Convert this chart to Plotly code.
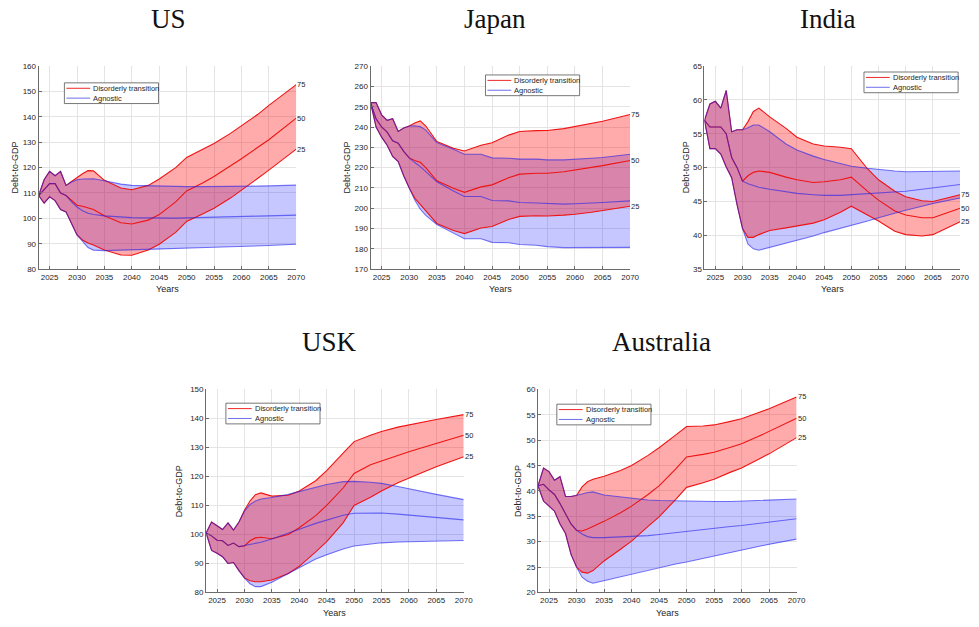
import plotly.graph_objects as go

# ---------------------------------------------------------------------------
# Debt-to-GDP fan bands (25th / 50th / 75th percentiles), 2023-2070
# ---------------------------------------------------------------------------
YEARS = [2023, 2024, 2025, 2026, 2027, 2028, 2029, 2030, 2031, 2032, 2033,
         2035, 2038, 2040, 2043, 2045, 2048, 2050, 2053, 2055, 2058, 2060,
         2063, 2065, 2070]

X_TICKS = [2025, 2030, 2035, 2040, 2045, 2050, 2055, 2060, 2065, 2070]
PCT_LABELS = ["25", "50", "75"]
SERIES_NAMES = ["Disorderly transition", "Agnostic"]

# US
US_DIS_P75 = [109, 115.2, 118.5, 116.8, 118.5, 113, 114.5, 116.2, 117.6, 118.8, 118.7,
              115, 112, 111.3, 113, 115.5, 120, 124, 127.2, 129.5, 133.5, 136.5, 141, 144.5, 152.7]
US_DIS_P50 = [109, 111.5, 113.7, 113.7, 110, 109, 107, 105.2, 104.8, 104.3, 103.5,
              101, 98.3, 97.8, 99.3, 101.5, 106.5, 110.8, 114, 116.5, 120.5, 123.5, 128, 131, 139.5]
US_DIS_P25 = [109, 106, 108.5, 107, 103.5, 102.5, 98, 93.5, 91.5, 90.3, 89.5,
              87.5, 85.6, 85.5, 87.5, 89.8, 94.5, 98.8, 101.8, 104, 108, 111, 115.8, 119, 127.3]
US_AGN_P75 = [109, 115.2, 118.5, 116.8, 118.5, 113, 114.3, 115.2, 115.5, 115.6, 115.6,
              114.8, 113.5, 113, 112.8, 112.7, 112.6, 112.5, 112.5, 112.5, 112.5, 112.6, 112.7, 112.8, 113.1]
US_AGN_P50 = [109, 111.5, 113.7, 113.7, 110, 109, 106.5, 104.5, 103, 102, 101.5,
              101, 100.5, 100.3, 100.2, 100.1, 100.1, 100.2, 100.3, 100.4, 100.6, 100.7, 100.9, 101, 101.3]
US_AGN_P25 = [109, 106, 108.5, 107, 103.5, 102.5, 98, 93.5, 91, 88.5, 87.5,
              87.3, 87.5, 87.6, 87.7, 87.8, 88.1, 88.3, 88.5, 88.6, 88.8, 88.9, 89.1, 89.3, 89.8]
US_YTICKS = [80, 90, 100, 110, 120, 130, 140, 150, 160]

# Japan
JP_DIS_P75 = [252, 252, 246, 243.3, 244.1, 237.8, 239.5, 240.5, 242, 243, 240.5,
              232.8, 229.5, 228.2, 231, 232.2, 236, 237.8, 238.2, 238.3, 239.2, 240.2, 241.8, 242.8, 246.2]
JP_DIS_P50 = [252, 244, 240, 237.5, 233.2, 232, 228, 224.8, 223.5, 222.6, 220,
              213.5, 209.8, 207.8, 210.5, 211.5, 215, 216.8, 217.2, 217.2, 218, 218.8, 220, 221, 223.5]
JP_DIS_P25 = [252, 240, 235, 231, 225.5, 223, 216, 210, 205, 202, 199,
              192.5, 189, 187.5, 190.3, 191, 194.5, 196, 196.3, 196.2, 196.6, 197, 198, 198.8, 201]
JP_AGN_P75 = [252, 252, 246, 243.3, 244.1, 237.8, 239.5, 240.5, 240.6, 240.2, 238.5,
              232.3, 229, 226.6, 226.6, 224.8, 224.6, 224.2, 224.2, 223.8, 223.8, 224, 224.6, 225, 226.6]
JP_AGN_P50 = [252, 244, 240, 237.5, 233.2, 232, 228, 224.8, 222.5, 220.5, 218,
              213, 208.5, 205.8, 205.8, 203.8, 203.6, 202.8, 202.6, 202.3, 202, 202.2, 202.5, 202.8, 203.6]
JP_AGN_P25 = [252, 240, 235, 231, 225.5, 223, 216, 210, 204, 199.5, 196.5,
              192, 188, 185, 185, 183.2, 183, 182.1, 181.8, 181.1, 180.6, 180.6, 180.6, 180.6, 180.7]
JP_YTICKS = [170, 180, 190, 200, 210, 220, 230, 240, 250, 260, 270]

# India
IN_DIS_P75 = [57, 59.4, 59.8, 58.8, 61.4, 55.3, 55.6, 55.6, 56.8, 58.3, 58.8,
              57.5, 55.8, 54.5, 53.5, 53.2, 53, 52.8, 49.8, 48.2, 46.5, 45.7, 45.1, 45, 46]
IN_DIS_P50 = [57, 56, 56, 56, 55, 51.5, 50, 48, 48.8, 49.3, 49.5,
              49.3, 48.6, 48.2, 47.8, 47.9, 48.2, 48.6, 46.5, 45.2, 43.6, 43, 42.6, 42.6, 44]
IN_DIS_P25 = [57, 52.8, 52.8, 52, 50.1, 48.5, 44.5, 41, 39.7, 39.7, 40.1,
              40.7, 41.1, 41.4, 41.8, 42.3, 43.4, 44.3, 43, 42.1, 40.6, 40.1, 39.9, 40.1, 42]
IN_AGN_P75 = [57, 59.4, 59.8, 58.8, 61.4, 55.3, 55.6, 55.6, 55.9, 56.3, 56.3,
              55.3, 53.5, 52.6, 51.7, 51.2, 50.6, 50.2, 49.9, 49.7, 49.5, 49.4, 49.4, 49.4, 49.5]
IN_AGN_P50 = [57, 56, 56, 56, 55, 51.5, 50, 48, 47.6, 47.3, 47.1,
              46.8, 46.4, 46.2, 46, 45.9, 45.9, 46, 46.1, 46.2, 46.4, 46.5, 46.8, 47, 47.5]
IN_AGN_P25 = [57, 52.8, 52.8, 52, 50.1, 48.5, 44.5, 41, 38.7, 38, 37.8,
              38.2, 38.8, 39.3, 39.9, 40.4, 41, 41.5, 42.1, 42.6, 43.3, 43.7, 44.3, 44.7, 45.5]
IN_YTICKS = [35, 40, 45, 50, 55, 60, 65]

# USK
UK_DIS_P75 = [100.5, 104.3, 103, 101.7, 104, 101.5, 104.3, 108.3, 111.5, 113.7, 114.3,
              113.2, 113.5, 115, 118.5, 122, 128, 132, 134.2, 135.5, 137, 137.8, 138.9, 139.6, 141.3]
UK_DIS_P50 = [100.5, 99.5, 98, 97.8, 96.2, 97, 95.8, 96, 97.8, 98.8, 99,
              98.5, 100, 102.3, 106.5, 110, 116, 121, 124, 125.3, 127.3, 128.5, 130.2, 131.3, 134.2]
UK_DIS_P25 = [100.5, 94.5, 93.5, 92.3, 90, 90.3, 87.5, 85, 84, 83.7, 83.7,
              84.3, 86.5, 89, 94, 97.5, 104, 110, 112.8, 115, 117.8, 119.5, 121.8, 123.3, 126.8]
UK_AGN_P75 = [100.5, 104.3, 103, 101.7, 104, 101.5, 104.3, 108, 110.3, 111.5, 112.2,
              112.7, 113.8, 114.8, 116.3, 117.2, 118.2, 118.3, 118, 117.6, 116.5, 115.8, 114.6, 113.8, 112]
UK_AGN_P50 = [100.5, 99.5, 98, 97.8, 96.2, 97, 95.8, 96.2, 96.5, 96.9, 97.3,
              98.4, 100.3, 101.8, 103.8, 105, 106.6, 107.3, 107.5, 107.4, 107, 106.7, 106.1, 105.7, 105]
UK_AGN_P25 = [100.5, 94.5, 93.5, 92.3, 90, 90.3, 87.5, 85, 83, 82, 82,
              83.5, 86.5, 88.5, 91.5, 93, 95, 96, 96.7, 97.1, 97.4, 97.5, 97.6, 97.7, 97.9]
UK_YTICKS = [80, 90, 100, 110, 120, 130, 140, 150]

# Australia
AU_DIS_P75 = [41, 44.5, 43.8, 42.1, 42.8, 38.9, 38.9, 39.1, 40.8, 41.8, 42.3,
              42.9, 44, 45, 47, 48.5, 51, 52.7, 52.8, 53, 53.7, 54.2, 55.4, 56.2, 58.5]
AU_DIS_P50 = [41, 41.3, 40.2, 39.3, 37.5, 35.5, 33.5, 32.2, 32.1, 32.5, 33,
              34, 35.7, 37, 39.3, 41, 44.3, 46.7, 47.2, 47.6, 48.6, 49.3, 50.7, 51.7, 54.3]
AU_DIS_P25 = [41, 38, 37, 36, 33.5, 31.6, 27.5, 25, 24, 23.8, 24.3,
              26.2, 28.5, 30.1, 33, 34.9, 38.3, 40.7, 41.6, 42.3, 43.7, 44.5, 46.2, 47.3, 50.5]
AU_AGN_P75 = [41, 44.5, 43.8, 42.1, 42.8, 38.9, 38.9, 39.1, 39.4, 39.7, 39.8,
              39.2, 38.8, 38.5, 38.2, 38.1, 38, 38, 37.9, 37.9, 37.9, 38, 38.1, 38.2, 38.4]
AU_AGN_P50 = [41, 41.3, 40.2, 39.3, 37.5, 35.5, 33.5, 32.3, 31.5, 31, 30.8,
              30.8, 30.9, 31, 31.2, 31.4, 31.8, 32, 32.4, 32.6, 33, 33.2, 33.6, 33.8, 34.5]
AU_AGN_P25 = [41, 38, 37, 36, 33.5, 31.6, 27.5, 25, 23, 22.2, 21.8,
              22.3, 23.1, 23.7, 24.4, 24.9, 25.6, 26, 26.7, 27.2, 27.8, 28.3, 29, 29.5, 30.5]
AU_YTICKS = [20, 25, 30, 35, 40, 45, 50, 55, 60]

# ---------------------------------------------------------------------------
# Layout helpers (pixel -> paper fractions for a 979 x 627 canvas)
# ---------------------------------------------------------------------------
W, H = 979, 627


def fx(px):
    return px / W


def fy(px):
    return 1 - px / H


SANS = "Liberation Sans, Arial, sans-serif"
SERIF = "Liberation Serif, Times New Roman, serif"
TXT = "#262626"

RED_LINE = "rgb(238,20,20)"
RED_FILL = "rgba(255,0,0,0.33)"
BLUE_LINE = "rgba(30,30,235,0.6)"
BLUE_FILL = "rgba(0,0,255,0.22)"
LEGEND_COLORS = ["rgb(240,40,40)", "rgb(110,110,235)"]

panels = [
    dict(title="US", dis=(US_DIS_P25, US_DIS_P50, US_DIS_P75),
         agn=(US_AGN_P25, US_AGN_P50, US_AGN_P75), yticks=US_YTICKS,
         box=(39, 299, 63, 269), title_xy=(170, 15), legend_xy=(65, 80),
         ytitle_x=15, xtitle_y=289),
    dict(title="Japan", dis=(JP_DIS_P25, JP_DIS_P50, JP_DIS_P75),
         agn=(JP_AGN_P25, JP_AGN_P50, JP_AGN_P75), yticks=JP_YTICKS,
         box=(374, 636, 63, 269), title_xy=(500, 15), legend_xy=(490, 72),
         ytitle_x=350, xtitle_y=289),
    dict(title="India", dis=(IN_DIS_P25, IN_DIS_P50, IN_DIS_P75),
         agn=(IN_AGN_P25, IN_AGN_P50, IN_AGN_P75), yticks=IN_YTICKS,
         box=(711, 969, 63, 269), title_xy=(835, 15), legend_xy=(872, 69),
         ytitle_x=692, xtitle_y=289),
    dict(title="USK", dis=(UK_DIS_P25, UK_DIS_P50, UK_DIS_P75),
         agn=(UK_AGN_P25, UK_AGN_P50, UK_AGN_P75), yticks=UK_YTICKS,
         box=(208, 468, 391, 597), title_xy=(333, 343), legend_xy=(228, 405),
         ytitle_x=181, xtitle_y=618),
    dict(title="Australia", dis=(AU_DIS_P25, AU_DIS_P50, AU_DIS_P75),
         agn=(AU_AGN_P25, AU_AGN_P50, AU_AGN_P75), yticks=AU_YTICKS,
         box=(543, 804, 391, 597), title_xy=(668, 343), legend_xy=(562, 406),
         ytitle_x=523, xtitle_y=618),
]

LEG_W, LEG_H = 95, 21

fig = go.Figure()
annotations = []
shapes = []
layout_axes = {}


def band_trace(lo, hi, color, xa, ya):
    return go.Scatter(
        x=YEARS + YEARS[::-1], y=hi + lo[::-1], fill="toself", fillcolor=color,
        mode="lines", line=dict(width=0, color="rgba(0,0,0,0)"),
        hoverinfo="skip", showlegend=False, xaxis=xa, yaxis=ya)


for i, p in enumerate(panels):
    n = "" if i == 0 else str(i + 1)
    xa, ya = "x" + n, "y" + n
    x0, x1, y0, y1 = p["box"]

    # shaded percentile bands: Agnostic underneath, Disorderly on top
    fig.add_trace(band_trace(p["agn"][0], p["agn"][2], BLUE_FILL, xa, ya))
    fig.add_trace(band_trace(p["dis"][0], p["dis"][2], RED_FILL, xa, ya))

    # percentile lines
    for vals in p["dis"]:
        fig.add_trace(go.Scatter(
            x=YEARS, y=vals, mode="lines", line=dict(color=RED_LINE, width=1.1),
            name=SERIES_NAMES[0], showlegend=False,
            xaxis=xa, yaxis=ya, hoverinfo="skip"))
    for vals in p["agn"]:
        fig.add_trace(go.Scatter(
            x=YEARS, y=vals, mode="lines", line=dict(color=BLUE_LINE, width=1.1),
            name=SERIES_NAMES[1], showlegend=False,
            xaxis=xa, yaxis=ya, hoverinfo="skip"))

    # percentile labels at the right end of the Disorderly lines
    for lab, vals in zip(PCT_LABELS, p["dis"]):
        annotations.append(dict(
            x=YEARS[-1], y=vals[-1], xref=xa, yref=ya, text=lab, showarrow=False,
            xanchor="left", yanchor="middle", xshift=-1,
            font=dict(family=SANS, size=7.5, color=TXT)))

    axis_common = dict(showline=True, linecolor="#6b6b6b", linewidth=1,
                       showgrid=True, gridcolor="#e4e4e4", gridwidth=1,
                       zeroline=False, ticks="inside", ticklen=3, tickcolor="#6b6b6b",
                       tickfont=dict(family=SANS, size=8, color=TXT), mirror=False)
    layout_axes["xaxis" + n] = dict(
        axis_common, domain=[fx(x0), fx(x1)], anchor=ya, range=[2023, 2070],
        tickvals=X_TICKS, ticktext=[str(t) for t in X_TICKS])
    layout_axes["yaxis" + n] = dict(
        axis_common, domain=[fy(y1), fy(y0)], anchor=xa,
        range=[p["yticks"][0], p["yticks"][-1]], tickvals=p["yticks"],
        ticktext=[str(t) for t in p["yticks"]])

    # compact boxed legend
    lx, ly = p["legend_xy"]
    shapes.append(dict(type="rect", xref="paper", yref="paper",
                       x0=fx(lx), x1=fx(lx + LEG_W), y0=fy(ly + LEG_H), y1=fy(ly),
                       fillcolor="white", line=dict(color="#555555", width=0.8),
                       layer="above"))
    for k, (name, col) in enumerate(zip(SERIES_NAMES, LEGEND_COLORS)):
        yy = ly + 5.5 + 10 * k
        shapes.append(dict(type="line", xref="paper", yref="paper",
                           x0=fx(lx + 2), x1=fx(lx + 26), y0=fy(yy), y1=fy(yy),
                           line=dict(color=col, width=1), layer="above"))
        annotations.append(dict(
            x=fx(lx + 27), y=fy(yy), xref="paper", yref="paper", text=name,
            showarrow=False, xanchor="left", yanchor="middle",
            font=dict(family=SANS, size=7.5, color=TXT)))

    # panel title and axis titles
    annotations.append(dict(
        x=fx(p["title_xy"][0]), y=fy(p["title_xy"][1]), xref="paper", yref="paper",
        text=p["title"], showarrow=False, xanchor="center", yanchor="middle",
        font=dict(family=SERIF, size=27, color="#111111")))
    annotations.append(dict(
        x=fx((x0 + x1) / 2), y=fy(p["xtitle_y"]), xref="paper", yref="paper",
        text="Years", showarrow=False, xanchor="center", yanchor="middle",
        font=dict(family=SANS, size=9, color=TXT)))
    annotations.append(dict(
        x=fx(p["ytitle_x"]), y=fy((y0 + y1) / 2), xref="paper", yref="paper",
        text="Debt-to-GDP", showarrow=False, xanchor="center", yanchor="middle",
        textangle=-90, font=dict(family=SANS, size=9, color=TXT)))

fig.update_layout(
    width=W, height=H, margin=dict(l=0, r=0, t=0, b=0),
    paper_bgcolor="white", plot_bgcolor="white", showlegend=False,
    annotations=annotations, shapes=shapes, **layout_axes)

fig.write_html("out.html")
